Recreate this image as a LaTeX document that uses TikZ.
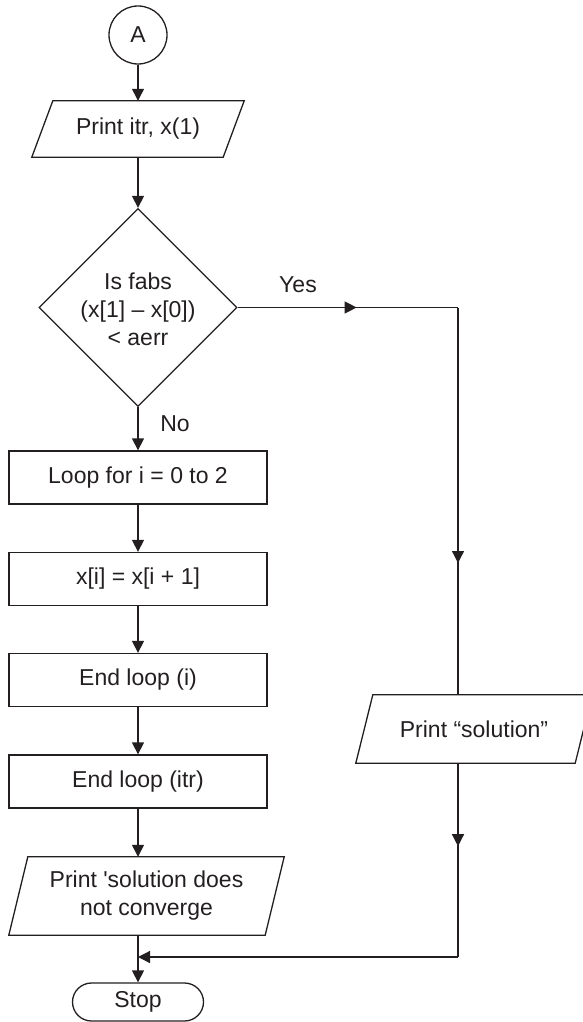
\documentclass[tikz,border=0pt]{standalone}
\usepackage{fontspec}
\setmainfont{Liberation Sans}
\usetikzlibrary{shapes.geometric,arrows.meta,decorations.markings}
\definecolor{ink}{HTML}{231F20}
\begin{document}
\begin{tikzpicture}[x=1pt,y=-1pt,
  every node/.style={font=\fontsize{23}{28}\selectfont, text=ink},
  line/.style={draw=ink, line width=1.3pt},
  tip/.style={-{Triangle[length=12pt,width=12pt]}},
  conn/.style={line, tip},
  midarrow/.style={postaction={decorate}, decoration={markings, mark=at position #1 with {\arrow{Triangle[length=12pt,width=12pt]}}}},
  procbox/.style={draw=ink, line width=1.3pt, rectangle, inner sep=0pt, minimum width=258pt, minimum height=53pt},
  iotext/.style={rectangle, inner sep=0pt, align=center},
  decision/.style={draw=ink, line width=1.3pt, diamond, aspect=1, inner sep=0pt, minimum width=198pt, minimum height=198pt},
  connector/.style={draw=ink, line width=1.3pt, circle, inner sep=0pt, minimum size=58pt},
  terminal/.style={draw=ink, line width=1.3pt, rectangle, rounded corners=19pt, inner sep=0pt, minimum width=131pt, minimum height=38pt}
]
\useasboundingbox (0,0) rectangle (582,1022);

% nodes
\node[connector] (A) at (138,35) {A};

\node[iotext, minimum width=191pt, minimum height=56pt] (p1) at (138,129) {Print itr, x(1)};
\draw[line] ([xshift=10.5pt]p1.north west) -- ([xshift=10.5pt]p1.north east)
  -- ([xshift=-10.5pt]p1.south east) -- ([xshift=-10.5pt]p1.south west) -- cycle;

\node[decision] (d) at (138,307.5) {};
\node[align=center, inner sep=0pt] (dt) at (138,309) {Is fabs\\(x[1] – x[0])\\< aerr};

\node (yes) at (298,285) {Yes};
\node (no) at (175,424) {No};

\node[procbox] (b1) at (138,477.5) {Loop for i = 0 to 2};
\node[procbox] (b2) at (138,579) {x[i] = x[i + 1]};
\node[procbox] (b3) at (138,680) {End loop (i)};
\node[procbox] (b4) at (138,781.5) {End loop (itr)};

\node[iotext, minimum width=256pt, minimum height=78pt] (p2) at (146.5,896)
  {Print \textquotesingle solution does\\not converge};
\draw[line] ([xshift=9.5pt]p2.north west) -- ([xshift=9.5pt]p2.north east)
  -- ([xshift=-9.5pt]p2.south east) -- ([xshift=-9.5pt]p2.south west) -- cycle;

\node[iotext, minimum width=219pt, minimum height=68pt] (p3) at (474,729) {Print “solution”};
\draw[line] ([xshift=8.5pt]p3.north west) -- ([xshift=8.5pt]p3.north east)
  -- ([xshift=-8.5pt]p3.south east) -- ([xshift=-8.5pt]p3.south west) -- cycle;

\node[terminal] (stop) at (138,1002) {Stop};

\coordinate (c1) at (458,307.5);
\coordinate (c2) at (458,957);

% connectors
\draw[conn] (A.south) -- (p1.north);
\draw[conn] (p1.south) -- (d.north);
\draw[conn] (d.south) -- (b1.north);
\draw[conn] (b1.south) -- (b2.north);
\draw[conn] (b2.south) -- (b3.north);
\draw[conn] (b3.south) -- (b4.north);
\draw[conn] (b4.south) -- (b4.south |- p2.north);
\draw[conn] (b4.south |- p2.south) -- (stop.north);

\draw[line, midarrow=119pt] (d.east) -- (c1);
\draw[line, midarrow=255.5pt] (c1) -- (c1 |- p3.north);
\draw[line, midarrow=83pt] (c1 |- p3.south) -- (c2);
\draw[conn] (c2) -- (c2 -| stop.north);
\end{tikzpicture}
\end{document}
